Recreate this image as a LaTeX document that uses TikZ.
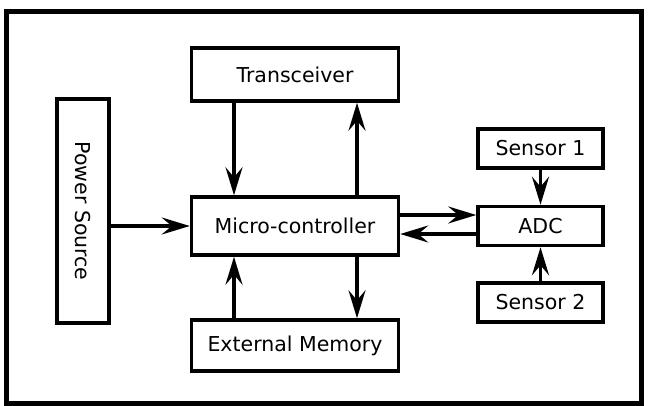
\documentclass[tikz,border=0pt]{standalone}
\usepackage{fontspec}
\setmainfont{DejaVu Sans}
\usetikzlibrary{arrows.meta,positioning,calc}
\tikzset{
    box/.style={
        draw=black,line width=3.5pt,fill=white,inner sep=0pt,
        minimum width=#1,align=center,
        font=\fontsize{20.5}{24}\selectfont
    },
    box/.default=207pt,
    arrow/.style={
        -{Stealth[length=28pt,width=17pt,inset=10pt]},line width=3.4pt
    }
}

\begin{document}
\begin{tikzpicture}[x=1pt,y=-1pt]

\useasboundingbox (0,0) rectangle (650,406);
\draw[line width=5pt] (6.5,12) rectangle (641,403.5);

\node[box,minimum height=53pt] (trans) at (295,74.5) {Transceiver};
\node[box,minimum height=58pt] (mc) at (295,226) {Micro-controller};
\node[box,minimum height=51pt] (mem) at (295,345.5) {External Memory};

\node[box=224pt,minimum height=52pt,rotate=-90] (power) at (83,211)
{Power Source};

\node[box=125pt,minimum height=39pt] (s1) at (540.5,148.5) {Sensor 1};
\node[box=125pt,minimum height=39pt] (adc) at (540.5,226) {ADC};
\node[box=125pt,minimum height=39pt] (s2) at (540.5,302.5) {Sensor 2};

\draw[arrow] ([xshift=-61pt]trans.south) -- ([xshift=-61pt]mc.north);
\draw[arrow] ([xshift=62pt]mc.north) -- ([xshift=62pt]trans.south);
\draw[arrow] ([xshift=-61pt]mem.north) -- ([xshift=-61pt]mc.south);
\draw[arrow] ([xshift=62pt]mc.south) -- ([xshift=62pt]mem.north);

\draw[arrow] (power.north |- mc) -- (mc.west);

\draw[arrow] ([yshift=11pt]mc.east) -- ([yshift=11pt]adc.west);
\draw[arrow] ([yshift=-8pt]adc.west) -- ([yshift=-8pt]mc.east);

\draw[arrow] (s1.south) -- (adc.north);
\draw[arrow] (s2.north) -- (adc.south);

\end{tikzpicture}
\end{document}
